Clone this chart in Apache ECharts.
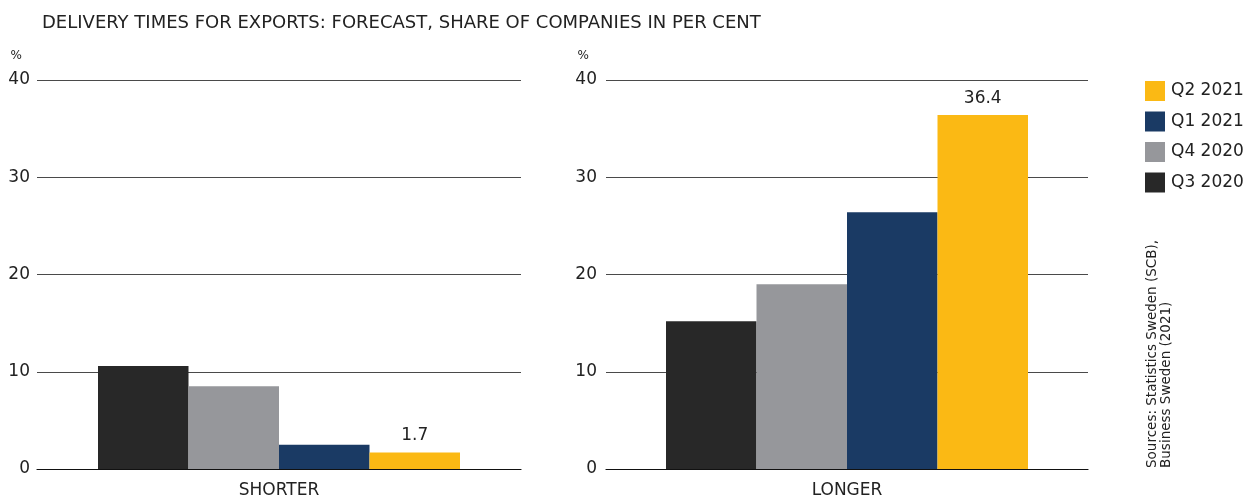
<!DOCTYPE html>
<html>
<head>
<meta charset="utf-8">
<script src="https://cdn.jsdelivr.net/npm/echarts@6/dist/echarts.min.js"></script>
<style>
  html, body { margin: 0; padding: 0; background: #fff; }
  #chart { width: 1255px; height: 501px; }
</style>
</head>
<body>
<div id="chart"></div>
<script>
(function() {
  const chart = echarts.init(document.getElementById('chart'));
  const font = 'DejaVu Sans';

  // 数据
  const categories = ['SHORTER', 'LONGER'];
  const quarters = ['Q3 2020', 'Q4 2020', 'Q1 2021', 'Q2 2021'];
  const colors = ['#282828', '#96979b', '#1a3a64', '#fbb914'];
  const shorter = [10.6, 8.5, 2.5, 1.7];
  const longer = [15.2, 19.0, 26.4, 36.4];
  const legendOrder = ['Q2 2021', 'Q1 2021', 'Q4 2020', 'Q3 2020'];

  const yAxisBase = function(gridIndex, pctPad, labelMargin) {
    return {
      type: 'value',
      gridIndex: gridIndex,
      min: 0,
      max: 40,
      interval: 10,
      name: '%',
      nameLocation: 'end',
      nameGap: 18,
      nameTextStyle: { color: '#222', fontSize: 12, fontFamily: font, align: 'right', padding: [0, pctPad, 0, 0] },
      axisLine: { show: false },
      axisTick: { show: false },
      axisLabel: { color: '#222', fontSize: 17, fontFamily: font, margin: labelMargin, padding: [3, 0, 0, 0] },
      splitLine: { lineStyle: { color: '#4a4a4a', width: 1 } }
    };
  };

  const xAxisBase = function(gridIndex, cat) {
    return {
      type: 'category',
      gridIndex: gridIndex,
      data: [cat],
      axisLine: { lineStyle: { color: '#111', width: 1.2 } },
      axisTick: { show: false },
      axisLabel: { color: '#222', fontSize: 17, fontFamily: font, margin: 13 }
    };
  };

  const series = [];
  [shorter, longer].forEach(function(vals, g) {
    quarters.forEach(function(q, i) {
      series.push({
        name: q,
        type: 'bar',
        xAxisIndex: g,
        yAxisIndex: g,
        barWidth: 90.5,
        barGap: '0%',
        itemStyle: { color: colors[i] },
        label: {
          show: q === 'Q2 2021',
          position: 'top',
          distance: 8,
          color: '#222',
          fontSize: 17,
          fontFamily: font
        },
        data: [vals[i]]
      });
    });
  });

  const option = {
    animation: false,
    title: {
      text: 'DELIVERY TIMES FOR EXPORTS: FORECAST, SHARE OF COMPANIES IN PER CENT',
      left: 37,
      top: 9,
      textStyle: { color: '#222', fontSize: 18, fontWeight: 'normal', fontFamily: font }
    },
    legend: {
      data: legendOrder,
      orient: 'vertical',
      left: 1140,
      top: 76,
      itemWidth: 20,
      itemHeight: 20,
      itemGap: 10.5,
      icon: 'rect',
      textStyle: { color: '#222', fontSize: 17, fontFamily: font, padding: [0, 0, 0, 1] }
    },
    grid: [
      { left: 37, top: 80, width: 484, height: 389 },
      { left: 606, top: 80, width: 482, height: 389 }
    ],
    xAxis: [xAxisBase(0, categories[0]), xAxisBase(1, categories[1])],
    yAxis: [yAxisBase(0, 15, 7), yAxisBase(1, 17, 9)],
    graphic: [
      {
        type: 'text',
        left: 1145,
        top: 240,
        rotation: Math.PI / 2,
        originX: 0,
        originY: 0,
        style: {
          text: 'Sources: Statistics Sweden (SCB),\nBusiness Sweden (2021)',
          fill: '#222',
          fontSize: 13.5,
          fontFamily: font,
          lineHeight: 14
        }
      }
    ],
    series: series
  };
  chart.setOption(option);
}());
</script>
</body>
</html>
